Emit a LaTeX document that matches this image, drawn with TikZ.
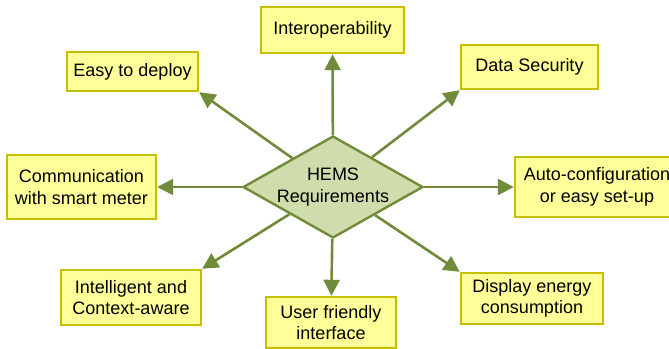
\documentclass[tikz,border=0pt]{standalone}
\usepackage{fontspec}
\setmainfont{Liberation Sans}
\usetikzlibrary{shapes.geometric,arrows.meta}
\begin{document}
\begin{tikzpicture}[x=1pt,y=-1pt,
  req/.style={draw=boxLine,fill=boxFill,line width=2.4pt,align=center,inner sep=0pt,
    font=\fontsize{18}{21.5}\selectfont},
  hub/.style={draw=hubLine,fill=hubFill,line width=2.4pt,shape=diamond,aspect=1.76,align=center,inner sep=0pt,
    minimum width=180pt,minimum height=102pt,font=\fontsize{18}{21.5}\selectfont},
  link/.style={draw=hubLine,line width=2.6pt,-{Triangle[length=16pt,width=16pt]}}]
\definecolor{boxFill}{RGB}{255,255,153}
\definecolor{boxLine}{RGB}{199,190,0}
\definecolor{hubFill}{RGB}{207,221,172}
\definecolor{hubLine}{RGB}{112,140,58}
\path[use as bounding box,fill=white] (0,0) rectangle (669,348);

% centre
\node[hub] (hems) at (333,187) {HEMS\\Requirements};

% requirements
\node[req,minimum width=143pt,minimum height=46pt] (interop) at (332.5, 30.0) {Interoperability};
\node[req,minimum width=131pt,minimum height=39pt] (deploy) at (132.5, 71.5) {Easy to deploy};
\node[req,minimum width=137pt,minimum height=44pt] (security) at (529.5, 67.0) {Data Security};
\node[req,minimum width=149pt,minimum height=64pt] (meter) at ( 81.5,187.0) {Communication\\with smart meter};
\node[req,minimum width=164pt,minimum height=60pt] (setup) at (597.0,187.0) {Auto-configuration\\or easy set-up};
\node[req,minimum width=140pt,minimum height=55pt] (context) at (131.0,297.5) {Intelligent and\\Context-aware};
\node[req,minimum width=130pt,minimum height=51pt] (friendly) at (331.0,322.5) {User friendly\\interface};
\node[req,minimum width=142pt,minimum height=51pt] (display) at (532.0,298.5) {Display energy\\consumption};

% arrows
\draw[link] (hems) -- (interop);
\draw[link] (hems) -- (deploy.south east);
\draw[link] (hems) -- (security.south west);
\draw[link] (hems) -- (meter);
\draw[link] (hems) -- (setup);
\draw[link] (hems) -- (context.north east);
\draw[link] (hems) -- (friendly);
\draw[link] (hems) -- (display.north west);
\end{tikzpicture}
\end{document}
